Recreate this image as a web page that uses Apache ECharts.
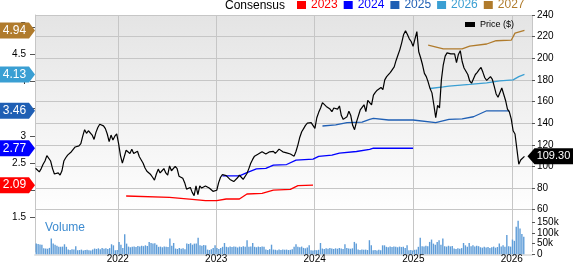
<!DOCTYPE html>
<html><head><meta charset="utf-8">
<script src="https://cdn.jsdelivr.net/npm/echarts@6/dist/echarts.min.js"></script>
<style>html,body{margin:0;padding:0;background:#fff}#c{width:573px;height:264px}</style>
</head><body><div id="c"></div>
<script>
// ---- data ----
const startDate = Date.UTC(2021, 2, 2);      // first weekly observation
const xMin = Date.UTC(2021, 1, 28);
const xMax = Date.UTC(2026, 2, 17);

const price = [
 98.3,97,95,98,102,105,110,111,105,98,
 93,92,94,92,96,105,108,110.5,112,113.6,
 115,118,118,119,121,128,134,130.6,133,131.5,
 129,125,131.5,136,139,139,137.5,135,130,123,
 129,124.4,128,130,121,110,103,109,115,115,
 112,115.8,112,113,114,109,106,103,98.5,95.5,
 94,92.5,90,87.4,93,97.5,94,96,98,94,
 92,100.5,96,95,100,98,91,90,89,85,
 79,77.5,80.5,76,73,82,74,82,80,80.5,
 82,82,80,78.2,77,75.5,78,85,90,92.5,
 93.6,91.5,90,88,86.5,86,87.4,89.5,92,90,
 88,89,93.5,98,103,106.5,109.5,110.5,111.5,112.5,
 113.6,113,111.5,112,113.5,115,114,112.1,114,116,
 115,113.5,112.5,112.5,113,111.5,110,109.5,114,120,
 127,132,135,138,140,140,140.5,139,135.2,145,
 150,154,159,160,155.5,154.6,153,150.6,154,154,
 153,155.9,147,143.5,143,146,151,147,138,134,
 141,142,152.2,150.6,157,150.6,161,161,157,166,
 168.5,170.5,170,173,171,180,183,182,187,186,
 192,198,203,208,214.5,222,225.5,222,218,215.5,
 211,212,224.6,206,200.5,194,186,183,178,172,
 168,157,145,156.5,154,180,194,202,205,206,
 204,203,204,196,203.5,207,197,191,189.5,185,
 179,177,181,185,187,189.5,191.5,187,182,179.5,
 180,183,180.5,174,167,164,165,172.5,173,161,
 153,150.5,144,133,130,116,102,106,104.5,109.3
];

const volume = [ // thousands
 50,48,46,45,28,27,26,30,74,50,
 45,40,35,35,36,47,35,22,20,24,
 22,38,19,20,22,18,20,21,19,18,
 22,27,25,28,24,30,26,28,25,29,
 47,42,19,20,58,45,30,94,50,36,
 33,35,37,34,39,36,40,38,42,39,
 58,53,50,52,45,35,36,33,37,35,
 34,74,40,53,27,25,30,26,28,24,
 50,48,52,45,50,50,78,42,40,44,
 42,22,20,24,30,42,30,25,30,35,
 53,35,33,36,34,37,35,32,36,34,
 38,35,66,35,36,53,35,33,36,34,
 37,35,22,20,24,45,22,21,19,22,
 20,23,21,22,20,21,24,35,47,35,
 33,36,30,28,32,42,19,18,20,19,
 21,53,27,25,28,26,29,27,25,28,
 26,29,27,25,47,30,27,26,28,58,
 50,22,20,23,21,22,20,66,42,19,
 20,18,21,19,42,42,35,33,36,34,
 37,35,33,36,34,35,30,42,19,20,
 18,21,22,35,78,38,36,40,38,58,
 69,50,45,58,66,45,74,38,36,40,
 37,39,27,25,28,26,29,53,42,35,
 53,38,42,36,40,38,33,31,35,32,
 34,30,33,36,31,34,50,36,42,35,
 90,38,36,69,63,129,157,121,95,82
];

// consensus EPS: [week index, value]
const eps2023 = [[48,1.89],[71,1.866],[83,1.83],[90,1.804],[96,1.804],[101,1.835],[108,1.835],[112,1.927],[120,1.94],[126,2.0],[135,2.014],[139,2.08],[147,2.09]];
const eps2024 = [[99,2.26],[108,2.26],[112,2.32],[117,2.39],[122,2.40],[126,2.46],[133,2.47],[138,2.55],[147,2.57],[150,2.62],[157,2.645],[161,2.68],[170,2.71],[177,2.75],[179,2.77],[200,2.77]];
const eps2025 = [[152,3.18],[159,3.20],[165,3.24],[173,3.25],[177,3.30],[179,3.32],[187,3.29],[200,3.29],[212,3.24],[219,3.30],[226,3.31],[232,3.35],[239,3.46],[251,3.46]];
const eps2026 = [[209,3.87],[216,3.90],[219,3.915],[230,3.945],[239,3.975],[246,4.01],[253,4.03],[256,4.09],[259,4.13]];
const eps2027 = [[208,4.67],[216,4.60],[226,4.60],[230,4.65],[239,4.69],[244,4.75],[252,4.76],[254,4.89],[259,4.94]];

const epsTicks = [1.5,2,2.5,3,3.5,4,4.5,5];
const priceTicks = [60,80,100,120,140,160,180,200,220,240];
const volTicks = [0,50,100,150];
const years = ['2023','2024','2025','2026','2027'];
const colors = ['#ff0000','#0000ff','#1f5fb4','#3a9fd3','#b07b2c'];

// ---- build ----
const DAY = 86400000;
const dates = price.map((_, i) => startDate + i * 7 * DAY);
const epsAll = [eps2023, eps2024, eps2025, eps2026, eps2027];
const FONT = "'Liberation Sans', Arial, sans-serif";

const chart = echarts.init(document.getElementById('c'), null, {renderer: 'canvas'});

const gridL = 35, gridR = 41;
const epsSeries = epsAll.map((pts, k) => {
  const last = pts[pts.length - 1][1];
  return {
    name: years[k], type: 'line', xAxisIndex: 2, yAxisIndex: 2,
    data: pts.map(p => [dates[p[0]], p[1]]),
    showSymbol: false, symbol: 'none', clip: false, z: 3,
    lineStyle: {color: colors[k], width: 1.3},
    itemStyle: {color: colors[k]},
    markPoint: {
      symbol: 'path://M0,0 L29,0 L35,8 L29,16 L0,16 Z',
      symbolSize: [35, 16], symbolOffset: [-17.5, 0], z: 10,
      itemStyle: {color: colors[k]},
      label: {show: true, position: 'inside', offset: [-3, 0], color: '#fff', fontSize: 12, fontFamily: FONT,
              formatter: last.toFixed(2)},
      data: [{coord: [xMin, last]}]
    }
  };
});

const lastIdx = price.length - 1;
const option = {
  animation: false,
  textStyle: {fontFamily: FONT},
  grid: [
    {left: gridL, right: gridR, top: 15, height: 239.3, show: true, borderWidth: 0,
     backgroundColor: new echarts.graphic.LinearGradient(0, 0, 0, 1, [
       {offset: 0, color: '#e4e4e4'}, {offset: 0.848, color: '#ffffff'}, {offset: 1, color: '#ffffff'}])},
    {left: gridL, right: gridR, top: 15, height: 194.7},
    {left: gridL, right: gridR, top: 15, height: 202.2},
    {left: gridL, right: gridR, top: 218, height: 36.3}
  ],
  xAxis: [
    {type: 'time', gridIndex: 0, min: xMin, max: xMax,
     minInterval: 365 * DAY, 
     axisLine: {show: false}, axisTick: {show: false},
     splitLine: {show: true, lineStyle: {color: '#c6c6c6', width: 1}},
     axisLabel: {fontSize: 10, color: '#000', margin: 2, formatter: v => String(new Date(v).getFullYear())}},
    {type: 'time', gridIndex: 1, min: xMin, max: xMax, show: false},
    {type: 'time', gridIndex: 2, min: xMin, max: xMax, show: false},
    {type: 'time', gridIndex: 3, min: xMin, max: xMax, position: 'top',
     axisLine: {show: true, lineStyle: {color: '#e2e2e2', width: 2}},
     axisTick: {show: false}, axisLabel: {show: false}, splitLine: {show: false}}
  ],
  yAxis: [
    {type: 'value', gridIndex: 0, min: 0, max: 1, position: 'left',
     axisLine: {show: true, lineStyle: {color: '#c6c6c6'}}, axisTick: {show: false},
     axisLabel: {show: false}, splitLine: {show: false}},
    {type: 'value', gridIndex: 1, position: 'right', min: 60, max: 240, interval: 20,
     axisLine: {show: false}, axisTick: {show: true, length: 3, lineStyle: {color: '#555'}},
     splitLine: {show: true, lineStyle: {color: '#c6c6c6'}},
     axisLabel: {fontSize: 10, color: '#000', margin: 5,
                 formatter: v => priceTicks.includes(v) ? String(v) : ''}},
    {type: 'value', gridIndex: 2, position: 'left', min: 1.5, max: 5.224, interval: 0.5,
     axisLine: {show: false},
     axisTick: {show: true, length: 5, lineStyle: {color: '#555'}, customValues: epsTicks},
     splitLine: {show: false},
     axisLabel: {fontSize: 10, color: '#000', margin: 9, customValues: epsTicks,
                 formatter: v => epsTicks.includes(v) ? String(v) : ''}},
    {type: 'value', gridIndex: 3, position: 'right', min: 0, max: 170, interval: 50,
     axisLine: {show: false}, axisTick: {show: true, length: 3, lineStyle: {color: '#555'}, customValues: volTicks},
     splitLine: {show: false},
     axisLabel: {fontSize: 10, color: '#000', margin: 5, customValues: volTicks,
                 formatter: v => volTicks.includes(v) ? (v === 0 ? '0' : v + 'k') : ''}}
  ],
  legend: [
    {left: 297, top: -1, padding: 0, itemWidth: 9, itemHeight: 8, itemGap: 6, icon: 'rect',
     selectedMode: false, textStyle: {fontSize: 12, fontFamily: FONT},
     data: years.map((y, k) => ({name: y, itemStyle: {color: colors[k]}, textStyle: {color: colors[k]}}))},
    {left: 465, top: 20, padding: 0, itemWidth: 10, itemHeight: 5, icon: 'rect',
     selectedMode: false, textStyle: {fontSize: 9, color: '#000', fontFamily: FONT},
     data: [{name: 'Price ($)', itemStyle: {color: '#000'}}]}
  ],
  graphic: [
    {type: 'text', left: 225, top: 0, style: {text: 'Consensus', fontSize: 12, fill: '#000', fontFamily: FONT}},
    {type: 'text', left: 45, top: 222, style: {text: 'Volume', fontSize: 12, fill: '#3d8bd0', fontFamily: FONT}}
  ],
  series: [
    {name: 'Volume', type: 'bar', xAxisIndex: 3, yAxisIndex: 3, barWidth: 1.4,
     data: volume.map((v, i) => [dates[i], v]),
     itemStyle: {color: '#5f9dd8'}, z: 1},
    ...epsSeries,
    {name: 'Price ($)', type: 'line', xAxisIndex: 1, yAxisIndex: 1,
     data: price.map((v, i) => [dates[i], v]),
     showSymbol: false, symbol: 'none', clip: false, z: 5,
     lineStyle: {color: '#000', width: 1.2}, itemStyle: {color: '#000'},
     markPoint: {
       symbol: 'path://M0,8 L7,0 L46,0 L46,16 L7,16 Z',
       symbolSize: [46, 16], symbolOffset: [26, 0], z: 10,
       itemStyle: {color: '#000'},
       label: {show: true, position: 'inside', offset: [3, 0], color: '#fff', fontSize: 11, fontFamily: FONT,
               formatter: price[lastIdx].toFixed(2)},
       data: [{coord: [dates[lastIdx], price[lastIdx]]}]
     }}
  ]
};
chart.setOption(option);
</script>
</body></html>
